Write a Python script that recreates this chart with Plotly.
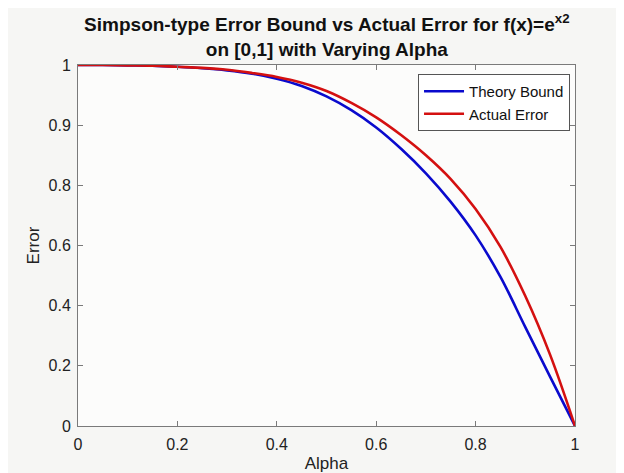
import plotly.graph_objects as go

alpha = [0.0, 0.05, 0.1, 0.15, 0.2, 0.25, 0.3, 0.35, 0.4, 0.45, 0.5,
         0.55, 0.6, 0.65, 0.7, 0.75, 0.8, 0.85, 0.9, 0.95, 1.0]
theory_bound = [1.000, 1.000, 0.999, 0.998, 0.995, 0.991, 0.985, 0.976, 0.962, 0.942, 0.913,
                0.875, 0.827, 0.768, 0.700, 0.621, 0.528, 0.413, 0.274, 0.136, 0.0]
actual_error = [1.000, 1.000, 0.999, 0.998, 0.995, 0.992, 0.987, 0.978, 0.967, 0.951, 0.928,
                0.895, 0.855, 0.806, 0.750, 0.684, 0.601, 0.496, 0.360, 0.197, 0.0]

x_ticks = [0, 0.2, 0.4, 0.6, 0.8, 1]
x_ticktext = ["0", "0.2", "0.4", "0.6", "0.8", "1"]
y_ticks = [0, 1/6, 2/6, 3/6, 4/6, 5/6, 1]
y_ticktext = ["0", "0.2", "0.4", "0.6", "0.8", "0.9", "1"]

FONT = "Liberation Sans, Arial, Helvetica, sans-serif"

fig = go.Figure()
fig.add_trace(go.Scatter(x=alpha, y=theory_bound, mode="lines", name="Theory Bound",
                         line=dict(color="#0a0acd", width=2.6, shape="spline", smoothing=1)))
fig.add_trace(go.Scatter(x=alpha, y=actual_error, mode="lines", name="Actual Error",
                         line=dict(color="#d41010", width=2.6, shape="spline", smoothing=1)))

axis_common = dict(showline=True, linecolor="#7a7a7a", linewidth=1, mirror="ticks",
                   ticks="inside", ticklen=5, tickcolor="#7a7a7a", showgrid=False,
                   zeroline=False, automargin=False,
                   tickfont=dict(family=FONT, size=16, color="#222222"))

fig.update_layout(
    width=624, height=473,
    paper_bgcolor="#f6f6f4", plot_bgcolor="#fcfcfb",
    margin=dict(l=70, r=57, t=57, b=55),
    title=dict(text="<b>Simpson-type Error Bound vs Actual Error for f(x)=e<sup>x2</sup><br>on [0,1] with Varying Alpha</b>",
               x=0.511, xanchor="center", y=0.951, yanchor="top",
               font=dict(family=FONT, size=19, color="#111111")),
    xaxis=dict(range=[0, 1], tickvals=x_ticks, ticktext=x_ticktext,
               title=dict(text="Alpha", font=dict(family=FONT, size=17, color="#222222"), standoff=4),
               ticklabelstandoff=4, **axis_common),
    yaxis=dict(range=[0, 1], tickvals=y_ticks, ticktext=y_ticktext,
               title=dict(text="Error", font=dict(family=FONT, size=17, color="#222222"), standoff=4),
               ticklabelstandoff=3, **axis_common),
    legend=dict(x=0.99, xanchor="right", y=0.975, yanchor="top",
                bgcolor="#ffffff", bordercolor="#555555", borderwidth=1,
                font=dict(family=FONT, size=15, color="#111111"),
                tracegroupgap=0, itemwidth=40),
    showlegend=True,
)

fig.write_html("out.html")
